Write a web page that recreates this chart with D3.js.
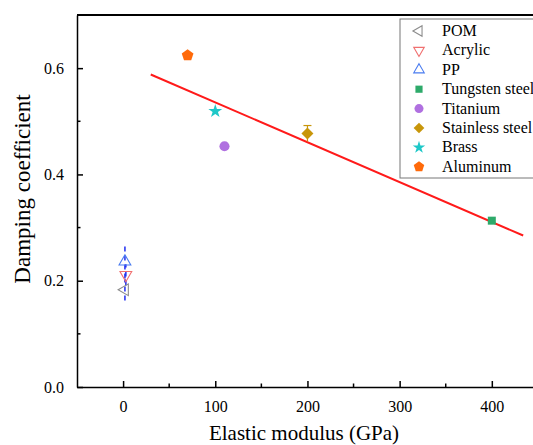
<!DOCTYPE html>
<html>
<head>
<meta charset="utf-8">
<script src="https://cdn.jsdelivr.net/npm/d3@7"></script>
<style>
  body { margin: 0; background: #fff; }
  #chart { width: 533px; height: 445px; overflow: hidden; }
</style>
</head>
<body>
<div id="chart"></div>
<script>
// materials, modulus (GPa) and damping coefficient
const materials = ['POM', 'Acrylic', 'PP', 'Tungsten steel', 'Titanium', 'Stainless steel', 'Brass', 'Aluminum'];
const modulus = [2, 3, 2, 400, 110, 200, 100, 70];
const damping = [0.183, 0.211, 0.236, 0.313, 0.453, 0.477, 0.519, 0.624];
const errors = [0.02, 0.02, 0.032, 0, 0, 0.015, 0, 0];
const colors = ['#8c8c8c', '#f07070', '#4a7cf0', '#2eaa6a', '#b070e0', '#c8960a', '#1ec8c8', '#ff6a0a'];
const filled = [false, false, false, true, true, true, true, true];

// linear fit line end points
const fitX = [30, 434];
const fitY = [0.588, 0.285];

const xTicks = [0, 100, 200, 300, 400];
const xMinor = [50, 150, 250, 350, 450];
const yTicks = [0.0, 0.2, 0.4, 0.6];
const yMinor = [0.1, 0.3, 0.5];

const serif = '"Liberation Serif", "Times New Roman", serif';
const margin = {top: 15, left: 77};
const width = 507;
const height = 372;

const svg = d3.select('#chart').append('svg')
  .attr('width', 533)
  .attr('height', 445)
  .attr('font-family', serif);

const x = d3.scaleLinear().domain([-50, 500]).range([0, width]);
const y = d3.scaleLinear().domain([0, 0.7]).range([height, 0]);

const g = svg.append('g')
  .attr('transform', `translate(${margin.left},${margin.top})`);

// pentagon symbol, d3 has none
const symbolPentagon = {
  draw(context, size) {
    const r = Math.sqrt(size / 2.378);
    for (let i = 0; i < 5; i++) {
      const a = -Math.PI / 2 + i * 2 * Math.PI / 5;
      const px = r * Math.cos(a), py = r * Math.sin(a);
      if (i === 0) context.moveTo(px, py); else context.lineTo(px, py);
    }
    context.closePath();
  }
};

const shapes = [
  {type: d3.symbolTriangle, rot: -90, size: 60},
  {type: d3.symbolTriangle, rot: 180, size: 60},
  {type: d3.symbolTriangle, rot: 0, size: 60},
  {type: d3.symbolSquare, rot: 0, size: 64},
  {type: d3.symbolCircle, rot: 0, size: 80},
  {type: d3.symbolSquare, rot: 45, size: 72},
  {type: d3.symbolStar, rot: 0, size: 60},
  {type: symbolPentagon, rot: 0, size: 90}
];

// fit line
g.append('line')
  .attr('x1', x(fitX[0])).attr('y1', y(fitY[0]))
  .attr('x2', x(fitX[1])).attr('y2', y(fitY[1]))
  .attr('stroke', '#ff1a1a')
  .attr('stroke-width', 2);

// error bars
const idx = d3.range(materials.length);
g.selectAll('.err')
  .data(idx.filter(i => errors[i] > 0 && i < 3))
  .join('line')
    .attr('x1', i => x(modulus[i])).attr('x2', i => x(modulus[i]))
    .attr('y1', i => y(damping[i] - errors[i]))
    .attr('y2', i => y(damping[i] + errors[i]))
    .attr('stroke', '#1f2cf0')
    .attr('stroke-width', 1.5)
    .attr('stroke-dasharray', '5,4');

g.selectAll('.err2')
  .data(idx.filter(i => errors[i] > 0 && i >= 3))
  .join('g')
  .each(function(i) {
    const s = d3.select(this);
    const cx = x(modulus[i]);
    s.append('line')
      .attr('x1', cx).attr('x2', cx)
      .attr('y1', y(damping[i] - errors[i])).attr('y2', y(damping[i] + errors[i]))
      .attr('stroke', colors[i]).attr('stroke-width', 1.2);
    s.append('line')
      .attr('x1', cx - 4).attr('x2', cx + 4)
      .attr('y1', y(damping[i] + errors[i])).attr('y2', y(damping[i] + errors[i]))
      .attr('stroke', colors[i]).attr('stroke-width', 1.2);
  });

// points
g.selectAll('.pt')
  .data(idx)
  .join('path')
    .attr('d', i => d3.symbol(shapes[i].type, shapes[i].size)())
    .attr('transform', i => `translate(${x(modulus[i])},${y(damping[i])}) rotate(${shapes[i].rot})`)
    .attr('fill', i => filled[i] ? colors[i] : 'none')
    .attr('stroke', i => filled[i] ? 'none' : colors[i])
    .attr('stroke-width', 1.1);

// axes
const xAxis = g.append('g').attr('transform', `translate(0,${height})`)
  .call(d3.axisBottom(x).tickValues(xTicks).tickSizeInner(-6).tickSizeOuter(0).tickPadding(14));
xAxis.append('g').selectAll('line')
  .data(xMinor)
  .join('line')
    .attr('x1', d => x(d)).attr('x2', d => x(d))
    .attr('y1', 0).attr('y2', -3.5)
    .attr('stroke', '#000').attr('stroke-width', 1.5);

const yAxis = g.append('g')
  .call(d3.axisLeft(y).tickValues(yTicks).tickFormat(d3.format('.1f')).tickSizeInner(-6).tickSizeOuter(0).tickPadding(13));
yAxis.append('g').selectAll('line')
  .data(yMinor)
  .join('line')
    .attr('y1', d => y(d)).attr('y2', d => y(d))
    .attr('x1', 0).attr('x2', 3.5)
    .attr('stroke', '#000').attr('stroke-width', 1.5);

[xAxis, yAxis].forEach(a => {
  a.attr('font-family', serif).attr('font-size', 16);
  a.select('.domain').attr('stroke-width', 1.5);
  a.selectAll('.tick line').attr('stroke-width', 1.5);
  a.selectAll('.tick text').attr('fill', '#000');
});

// top frame line
g.append('line')
  .attr('x1', 0).attr('x2', width)
  .attr('y1', 0).attr('y2', 0)
  .attr('stroke', '#000').attr('stroke-width', 2);
g.append('line')
  .attr('x1', width).attr('x2', width)
  .attr('y1', 0).attr('y2', height)
  .attr('stroke', '#000').attr('stroke-width', 1.5);

// axis titles
svg.append('text')
  .attr('x', 304).attr('y', 440)
  .attr('text-anchor', 'middle')
  .attr('font-size', 21)
  .text('Elastic modulus (GPa)');

svg.append('text')
  .attr('transform', 'translate(30,189) rotate(-90)')
  .attr('text-anchor', 'middle')
  .attr('font-size', 23)
  .text('Damping coefficient');

// legend
const legend = svg.append('g').attr('transform', 'translate(400,19)');
legend.append('rect')
  .attr('x', 0).attr('y', 0)
  .attr('width', 160).attr('height', 159)
  .attr('fill', '#fff')
  .attr('stroke', '#777')
  .attr('stroke-width', 1);

const rows = legend.selectAll('.row')
  .data(idx)
  .join('g')
    .attr('transform', i => `translate(0,${12 + i * 19.4})`);

rows.append('path')
  .attr('d', i => d3.symbol(shapes[i].type, shapes[i].size * 0.8)())
  .attr('transform', i => `translate(19,0) rotate(${shapes[i].rot})`)
  .attr('fill', i => filled[i] ? colors[i] : 'none')
  .attr('stroke', i => filled[i] ? 'none' : colors[i])
  .attr('stroke-width', 1.1);

rows.append('text')
  .attr('x', 42).attr('y', 5)
  .attr('font-size', 16)
  .text(i => materials[i]);
</script>
</body>
</html>
